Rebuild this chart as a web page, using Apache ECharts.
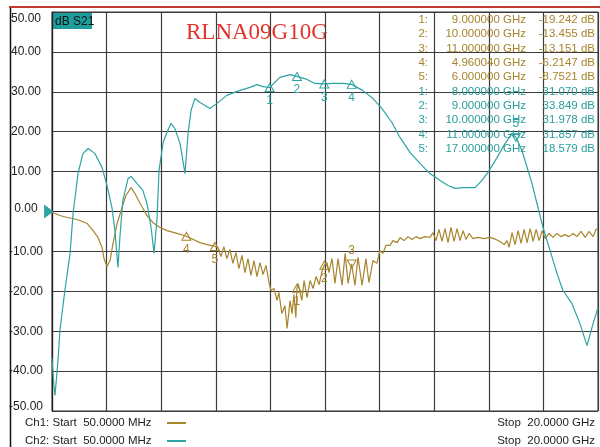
<!DOCTYPE html>
<html><head><meta charset="utf-8">
<script src="https://cdn.jsdelivr.net/npm/echarts@6/dist/echarts.min.js"></script>
<style>html,body{margin:0;padding:0;background:#fff}#c{width:600px;height:447px}</style>
</head><body><div id="c"></div><script>
// ---- data (GHz, dB) ----
const ch1Freq = [0.05,0.34,0.60,0.82,1.07,1.33,1.55,1.73,1.88,1.95,2.06,2.17,2.28,2.43,2.61,2.75,2.94,3.08,3.27,3.52,3.74,4.0,4.25,4.62,4.96,5.46,5.71,6.0,
 6.11,6.22,6.33,6.44,6.55,6.66,6.77,6.88,6.99,7.10,7.21,7.32,7.43,7.54,7.65,7.76,7.87,7.98,
 8.05,8.16,8.27,8.34,8.45,8.56,8.64,8.75,8.82,8.89,8.96,9.0,9.04,9.18,9.26,9.37,9.48,9.59,9.70,9.81,9.92,
 10.0,10.1,10.17,10.28,10.39,10.50,10.65,10.76,10.87,11.0,11.12,11.23,11.38,11.52,11.63,11.78,11.92,
 12.03,12.14,12.25,12.40,12.51,12.66,12.77,12.91,13.06,13.20,13.35,13.50,13.68,13.86,
 13.97,14.08,14.19,14.30,14.41,14.52,14.63,14.74,14.85,14.96,15.07,15.18,15.29,15.43,15.62,15.83,16.05,16.27,16.42,16.57,16.68,16.75,
 16.86,16.97,17.08,17.19,17.30,17.41,17.52,17.63,17.74,17.85,17.96,18.07,18.21,18.36,18.50,18.65,18.79,18.94,19.09,19.23,19.38,19.53,19.67,19.82,19.93,20.0];
const ch1Db = [-0.25,-1.0,-1.5,-1.75,-2.25,-3.0,-4.8,-6.5,-9.0,-11.8,-13.8,-12.3,-8.0,-3.0,1.0,4.0,6.0,4.5,2.0,-1.0,-2.8,-4.0,-4.8,-5.5,-6.21,-7.8,-8.3,-8.75,
 -9.0,-11.3,-8.8,-11.8,-9.5,-13.0,-10.3,-14.3,-11.0,-15.3,-11.8,-16.0,-12.3,-16.3,-12.8,-15.8,-13.5,-17.8,
 -19.8,-19.3,-22.3,-20.3,-25.6,-23.6,-29.3,-22.3,-25.6,-20.8,-26.6,-19.24,-18.0,-22.3,-17.3,-21.6,-17.3,-19.3,-16.3,-18.3,-14.8,
 -13.46,-12.8,-15.3,-11.8,-18.0,-11.8,-18.5,-10.5,-18.0,-13.15,-18.5,-11.5,-18.5,-11.8,-17.8,-12.3,-13.0,
 -9.8,-10.5,-8.5,-8.5,-7.3,-7.8,-6.5,-7.3,-6.3,-7.0,-6.3,-6.8,-6.3,-6.5,
 -5.3,-7.3,-4.5,-7.5,-4.3,-7.8,-4.0,-7.5,-4.3,-7.3,-4.8,-7.0,-5.5,-6.8,-6.5,-6.8,-6.5,-7.0,-7.5,-8.3,-7.3,-9.0,
 -5.3,-8.3,-4.8,-8.0,-4.5,-7.8,-4.3,-7.5,-4.5,-7.3,-4.8,-6.8,-5.5,-6.5,-5.5,-6.3,-5.8,-6.3,-5.5,-6.3,-5.0,-6.5,-5.0,-6.3,-4.5,-4.5];

const ch2Freq = [0.05,0.12,0.16,0.27,0.34,0.52,0.71,0.82,1.0,1.18,1.37,1.62,1.88,2.06,2.24,2.35,2.46,2.53,2.64,2.83,2.94,3.16,3.37,3.52,3.67,3.78,3.89,3.96,4.03,4.11,4.25,4.40,4.54,4.73,4.91,5.02,5.13,5.27,5.46,5.82,6.08,6.44,6.81,7.28,7.54,7.76,8.0,8.38,8.75,9.0,9.37,9.66,10.0,10.32,10.68,11.0,11.41,11.78,12.11,12.47,12.77,13.13,13.50,13.86,14.23,14.52,14.77,15.07,15.51,15.76,15.98,16.31,16.60,16.86,17.0,17.22,17.59,17.77,17.99,18.25,18.50,18.72,19.05,19.34,19.60,19.82,20.0];
const ch2Db = [-36.8,-43.6,-46.1,-37.3,-29.8,-19.8,-10.5,-0.5,9.5,14.5,15.8,14.5,11.0,6.5,1.0,-4.8,-14.0,-6.5,2.8,8.3,8.8,7.0,5.3,2.0,-4.0,-10.5,-1.5,10.3,13.5,17.3,19.8,22.1,20.8,17.0,9.5,19.5,25.3,28.3,27.3,25.8,27.1,29.1,30.1,31.1,31.8,31.3,31.07,33.6,34.3,33.85,33.1,32.1,31.98,32.1,32.1,31.86,30.3,28.3,25.8,22.3,18.5,14.8,12.0,9.5,7.8,6.5,5.8,6.0,6.0,7.8,9.8,13.5,17.0,19.5,18.58,15.3,7.0,2.0,-4.0,-9.8,-15.5,-19.8,-23.1,-28.1,-33.6,-28.1,-24.1];

const ch1MarkerFreq = [9, 10, 11, 4.96004, 6];
const ch1MarkerDb = [-19.242, -13.455, -13.151, -6.2147, -8.7521];
const ch2MarkerFreq = [8, 9, 10, 11, 17];
const ch2MarkerDb = [31.070, 33.849, 31.978, 31.857, 18.579];
const invertedCh1 = [false, false, true, false, false];
const invertedCh2 = [false, false, false, false, true];

const yMin = -50, yMax = 50, yStep = 10;
const fStart = 0.05, fStop = 20;
const titleText = 'RLNA09G10G';
const traceLabel = 'dB S21';
const legendCh1 = 'Ch1: Start  50.0000 MHz';
const legendCh2 = 'Ch2: Start  50.0000 MHz';
const stopText = 'Stop  20.0000 GHz';

// ---- styles ----
const C1 = '#a8842c', C2 = '#2ea3a3';
const FONT = '"Liberation Sans", Arial, sans-serif';

function markers(freqs, dbs, inv, color) {
  return freqs.map((f, i) => ({
    name: String(i + 1), coord: [f, dbs[i]],
    symbolRotate: inv[i] ? 180 : 0,
    label: {show: true, position: inv[i] ? 'top' : 'bottom', distance: 3, color: color, fontSize: 12, fontFamily: FONT, formatter: String(i + 1)}
  }));
}

const chart = echarts.init(document.getElementById('c'), null, {renderer: 'canvas'});

const graphics = [
  {type: 'line', shape: {x1: 9, y1: 7, x2: 600, y2: 7}, style: {stroke: '#c23a30', lineWidth: 2}},
  {type: 'line', shape: {x1: 10.5, y1: 8, x2: 10.5, y2: 447}, style: {stroke: '#111', lineWidth: 1.5}},
  {type: 'text', x: 186, y: 33, style: {text: titleText, fill: '#e0342c', font: '23px "Liberation Serif", "Times New Roman", serif', align: 'left', verticalAlign: 'middle', textAlign: 'left', textVerticalAlign: 'middle'}},
  {type: 'rect', shape: {x: 53, y: 13, width: 39, height: 16}, style: {fill: '#1f9d9d'}},
  {type: 'text', x: 55, y: 21.5, style: {text: traceLabel, fill: '#111', font: '12px ' + FONT, verticalAlign: 'middle', textVerticalAlign: 'middle'}},
  {type: 'text', x: 25, y: 423, style: {text: legendCh1, fill: '#222', font: '11.5px ' + FONT, verticalAlign: 'middle', textVerticalAlign: 'middle'}},
  {type: 'text', x: 25, y: 441, style: {text: legendCh2, fill: '#222', font: '11.5px ' + FONT, verticalAlign: 'middle', textVerticalAlign: 'middle'}},
  {type: 'line', shape: {x1: 167, y1: 423, x2: 186, y2: 423}, style: {stroke: C1, lineWidth: 2}},
  {type: 'line', shape: {x1: 167, y1: 441, x2: 186, y2: 441}, style: {stroke: C2, lineWidth: 2}},
  {type: 'text', x: 595, y: 423, style: {text: stopText, fill: '#222', font: '11.5px ' + FONT, align: 'right', textAlign: 'right', verticalAlign: 'middle', textVerticalAlign: 'middle'}},
  {type: 'text', x: 595, y: 441, style: {text: stopText, fill: '#222', font: '11.5px ' + FONT, align: 'right', textAlign: 'right', verticalAlign: 'middle', textVerticalAlign: 'middle'}}
];
const rows = [];
ch1MarkerFreq.forEach((f, i) => rows.push({i: i + 1, f: f, v: ch1MarkerDb[i], c: C1}));
ch2MarkerFreq.forEach((f, i) => rows.push({i: i + 1, f: f, v: ch2MarkerDb[i], c: '#2a9d9d'}));
rows.forEach((r, k) => {
  const y = 20 + k * 14.3;
  const st = (t, x) => ({type: 'text', x: x, y: y, z: 5, style: {text: t, fill: r.c, font: '11.5px ' + FONT, align: 'right', textAlign: 'right', verticalAlign: 'middle', textVerticalAlign: 'middle'}});
  graphics.push(st(r.i + ':', 428));
  graphics.push(st(r.f.toFixed(6) + ' GHz', 526));
  graphics.push(st(r.v.toPrecision(5) + ' dB', 595));
});

chart.setOption({
  animation: false,
  backgroundColor: '#fff',
  grid: {left: 52, right: 2, top: 12, bottom: 36, show: true, borderColor: '#333', borderWidth: 1},
  xAxis: [
    {type: 'value', min: fStart, max: fStop, axisLabel: {show: false}, axisTick: {show: false},
     axisLine: {show: true, lineStyle: {color: '#222', width: 1.2}}, splitLine: {show: false}},
    {type: 'value', min: 0, max: 10, interval: 1, position: 'top', axisLabel: {show: false}, axisTick: {show: false},
     axisLine: {show: false}, splitLine: {show: true, lineStyle: {color: '#3c3c3c', width: 1.2}}}
  ],
  yAxis: {
    type: 'value', min: yMin, max: yMax, interval: yStep,
    axisLine: {show: true, lineStyle: {color: '#222', width: 1.2}},
    axisTick: {show: false},
    splitLine: {show: true, lineStyle: {color: '#3c3c3c', width: 1.2}},
    axisLabel: {
      margin: 26, align: 'center', fontSize: 12, color: '#222', fontFamily: FONT,
      formatter: v => v === yMax ? '{t|' + v.toFixed(2) + '}' : v === yMin ? '{b|' + v.toFixed(2) + '}' : v === 0 ? '{z|' + v.toFixed(2) + '}' : v.toFixed(2),
      rich: {
        t: {padding: [14, 0, 0, 0], fontSize: 12, color: '#222', fontFamily: FONT},
        b: {padding: [0, 0, 8, 0], fontSize: 12, color: '#222', fontFamily: FONT},
        z: {padding: [0, 0, 6, 0], fontSize: 12, color: '#222', fontFamily: FONT}
      }
    }
  },
  graphic: graphics,
  series: [
    {name: 'Ch1', type: 'line', xAxisIndex: 0, showSymbol: false, symbol: 'none',
     data: ch1Freq.map((f, i) => [f, ch1Db[i]]),
     lineStyle: {color: C1, width: 1.2}, itemStyle: {color: C1}, z: 3,
     markPoint: {symbol: 'triangle', symbolSize: [9, 8], silent: true, animation: false,
       itemStyle: {color: 'rgba(0,0,0,0)', borderColor: C1, borderWidth: 1},
       data: markers(ch1MarkerFreq, ch1MarkerDb, invertedCh1, C1)}},
    {name: 'Ch2', type: 'line', xAxisIndex: 0, showSymbol: false, symbol: 'none',
     data: ch2Freq.map((f, i) => [f, ch2Db[i]]),
     lineStyle: {color: C2, width: 1.2}, itemStyle: {color: C2}, z: 4,
     markPoint: {symbol: 'triangle', symbolSize: [9, 8], silent: true, animation: false,
       itemStyle: {color: 'rgba(0,0,0,0)', borderColor: C2, borderWidth: 1},
       data: markers(ch2MarkerFreq, ch2MarkerDb, invertedCh2, C2).concat([
         {name: 'ref', coord: [fStart, 0], symbol: 'triangle', symbolSize: [12, 8], symbolRotate: -90, symbolOffset: [-3.5, 0],
          itemStyle: {color: C2, borderColor: C2}, label: {show: false}}])}}
  ]
});
</script></body></html>
